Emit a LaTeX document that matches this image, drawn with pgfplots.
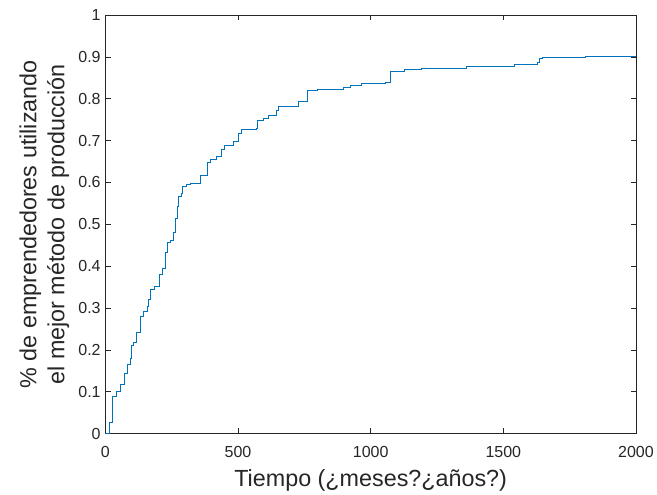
\documentclass[border=0pt]{standalone}
\usepackage{fontspec}
\setmainfont{Liberation Sans}
\usepackage{pgfplots}
\pgfplotsset{compat=1.18}
\usetikzlibrary{calc}
\definecolor{mlblue}{RGB}{0,114,189}
\definecolor{axgray}{RGB}{38,38,38}

\begin{document}
\begin{tikzpicture}
\begin{axis}[
    name=ax,
    scale only axis,
    width=398pt, height=314pt,
    xmin=0, xmax=2000,
    ymin=0, ymax=1,
    xtick={0,500,1000,1500,2000},
    ytick={0,0.1,0.2,0.3,0.4,0.5,0.6,0.7,0.8,0.9,1},
    yticklabel style={/pgf/number format/fixed},
    xticklabel style={/pgf/number format/1000 sep={}, yshift=-6pt},
    /pgf/number format/assume math mode=true,
    tick align=inside,
    major tick length=4pt,
    axis line style={axgray, line width=0.5pt},
    every tick/.style={axgray, line width=0.5pt},
    tick label style={font=\fontsize{12}{14}\selectfont, text=axgray},
    label style={font=\fontsize{17.5}{21}\selectfont, text=axgray},
    xlabel={Tiempo (¿meses?¿años?)},
    ylabel={\% de emprendedores utilizando\\el mejor método de producción},
    ylabel style={align=center},
    xlabel style={yshift=-2pt},
]
\addplot[const plot, mlblue, line width=0.5pt] coordinates {
(0,0) (15,0.026) (28,0.089) (40,0.100) (56,0.117) (73,0.143) (84,0.165)
(94,0.181) (98,0.212) (107,0.217) (115,0.242) (131,0.280) (144,0.292)
(157,0.304) (163,0.322) (169,0.345) (185,0.353) (204,0.380) (213,0.395)
(226,0.432) (232,0.457) (245,0.461) (257,0.480) (264,0.515) (270,0.543)
(276,0.566) (285,0.573) (291,0.590) (305,0.596) (320,0.598) (358,0.616)
(368,0.618) (383,0.648) (395,0.655) (420,0.662) (439,0.680) (448,0.688)
(481,0.698) (502,0.718) (511,0.726) (568,0.730) (573,0.748) (596,0.753)
(615,0.761) (646,0.772) (652,0.781) (726,0.793) (762,0.819) (799,0.823)
(897,0.827) (923,0.831) (963,0.837) (1054,0.839) (1076,0.866) (1127,0.870)
(1190,0.873) (1362,0.877) (1541,0.881) (1607,0.883) (1630,0.887)
(1635,0.897) (1648,0.899) (1809,0.902) (2000,0.902)
};
\end{axis}
\pgfresetboundingbox
\path ($(ax.south west)+(-79pt,-46pt)$) rectangle ($(ax.north east)+(15.75pt,11.25pt)$);
\end{tikzpicture}
\end{document}
